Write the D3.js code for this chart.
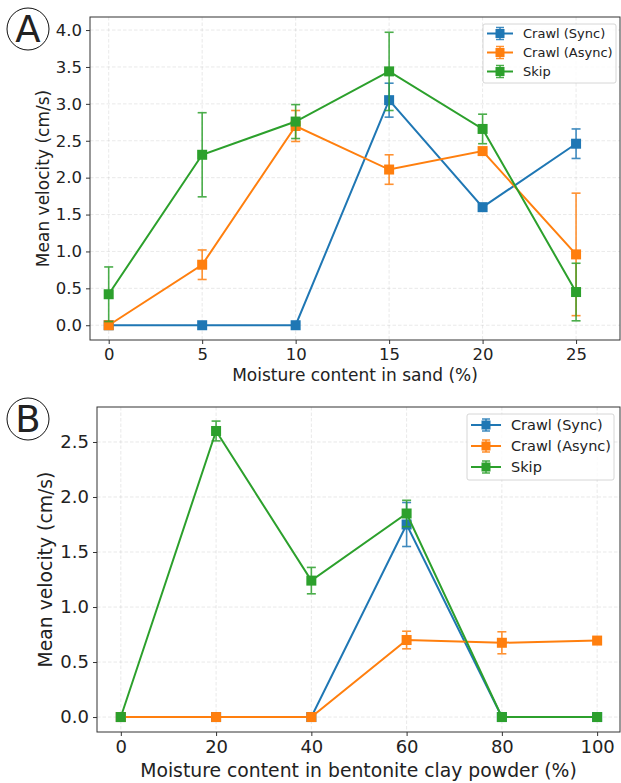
<!DOCTYPE html>
<html>
<head>
<meta charset="utf-8">
<script src="https://d3js.org/d3.v7.min.js"></script>
<style>
  body { margin: 0; background: white; }
  text { font-family: "DejaVu Sans", sans-serif; fill: #222; }
</style>
</head>
<body>
<svg id="chart" width="621" height="783"></svg>
<script>
// ---- data: panel A (sand) ----
var sandX = [0, 5, 10, 15, 20, 25];
var sandSync = [0, 0, 0, 3.05, 1.60, 2.46];
var sandSyncErr = [0, 0, 0, 0.23, 0.02, 0.20];
var sandAsync = [0, 0.82, 2.70, 2.11, 2.36, 0.96];
var sandAsyncErr = [0, 0.20, 0.21, 0.20, 0.02, 0.83];
var sandSkip = [0.42, 2.31, 2.76, 3.44, 2.66, 0.45];
var sandSkipErr = [0.37, 0.57, 0.23, 0.53, 0.20, 0.39];
var sandYTicks = [0, 0.5, 1, 1.5, 2, 2.5, 3, 3.5, 4];

// ---- data: panel B (bentonite clay) ----
var clayX = [0, 20, 40, 60, 80, 100];
var claySync = [0, 0, 0, 1.75, 0, 0];
var claySyncErr = [0, 0, 0, 0.20, 0, 0];
var clayAsync = [0, 0, 0, 0.70, 0.675, 0.695];
var clayAsyncErr = [0, 0, 0, 0.08, 0.10, 0.02];
var claySkip = [0, 2.60, 1.24, 1.85, 0, 0];
var claySkipErr = [0, 0.09, 0.12, 0.12, 0, 0];
var clayYTicks = [0, 0.5, 1, 1.5, 2, 2.5];

var seriesNames = ["Crawl (Sync)", "Crawl (Async)", "Skip"];
var colors = ["#1f77b4", "#ff7f0e", "#2ca02c"];

var svg = d3.select("#chart");

function panel(opt) {
    var g = svg.append("g");
    var x = d3.scaleLinear().domain(opt.xDomain).range([opt.left, opt.right]);
    var y = d3.scaleLinear().domain(opt.yDomain).range([opt.bottom, opt.top]);

    // grid
    g.append("g").selectAll("line").data(opt.xTicks).join("line")
        .attr("x1", d => x(d)).attr("x2", d => x(d))
        .attr("y1", opt.top).attr("y2", opt.bottom)
        .attr("stroke", "#b0b0b0").attr("stroke-opacity", 0.35)
        .attr("stroke-dasharray", "3.5,2").attr("stroke-width", 0.8);
    g.append("g").selectAll("line").data(opt.yTicks).join("line")
        .attr("y1", d => y(d)).attr("y2", d => y(d))
        .attr("x1", opt.left).attr("x2", opt.right)
        .attr("stroke", "#b0b0b0").attr("stroke-opacity", 0.35)
        .attr("stroke-dasharray", "3.5,2").attr("stroke-width", 0.8);

    // axes
    var xAxis = g.append("g").attr("transform", "translate(0," + opt.bottom + ")")
        .call(d3.axisBottom(x).tickValues(opt.xTicks).tickFormat(d3.format("d")).tickSize(4).tickPadding(4));
    var yAxis = g.append("g").attr("transform", "translate(" + opt.left + ",0)")
        .call(d3.axisLeft(y).tickValues(opt.yTicks).tickFormat(d3.format(".1f")).tickSize(4).tickPadding(4));
    [xAxis, yAxis].forEach(function (a) {
        a.select(".domain").remove();
        a.selectAll("line").attr("stroke", "#333");
        a.selectAll("text").attr("font-size", opt.tickSize).attr("fill", "#222")
            .attr("font-family", "DejaVu Sans, sans-serif");
    });

    // frame
    g.append("rect").attr("x", opt.left).attr("y", opt.top)
        .attr("width", opt.right - opt.left).attr("height", opt.bottom - opt.top)
        .attr("fill", "none").attr("stroke", "#333").attr("stroke-width", 1);

    // axis labels
    g.append("text").attr("x", (opt.left + opt.right) / 2).attr("y", opt.xLabelY)
        .attr("text-anchor", "middle").attr("font-size", opt.labelSize).text(opt.xLabel);
    g.append("text").attr("transform", "translate(" + opt.yLabelX + "," + ((opt.top + opt.bottom) / 2) + ") rotate(-90)")
        .attr("text-anchor", "middle").attr("dy", "0.35em").attr("font-size", opt.labelSize).text("Mean velocity (cm/s)");

    // series
    opt.series.forEach(function (s, i) {
        var pts = opt.xs.map((xv, j) => ({x: xv, y: s.values[j], e: s.errs[j]}));
        var sg = g.append("g");
        var line = d3.line().x(d => x(d.x)).y(d => y(d.y));
        sg.append("path").datum(pts).attr("d", line)
            .attr("fill", "none").attr("stroke", colors[i]).attr("stroke-width", 2);
        var eb = sg.append("g").attr("stroke", colors[i]).attr("stroke-width", 1.6).attr("opacity", 0.85);
        pts.filter(d => d.e > 0).forEach(function (d) {
            eb.append("line").attr("x1", x(d.x)).attr("x2", x(d.x))
                .attr("y1", y(d.y - d.e)).attr("y2", y(d.y + d.e));
            [d.y - d.e, d.y + d.e].forEach(function (v) {
                eb.append("line").attr("x1", x(d.x) - 4.5).attr("x2", x(d.x) + 4.5)
                    .attr("y1", y(v)).attr("y2", y(v));
            });
        });
        sg.selectAll("rect").data(pts).join("rect")
            .attr("x", d => x(d.x) - 5).attr("y", d => y(d.y) - 5)
            .attr("width", 10).attr("height", 10).attr("fill", colors[i]);
    });

    // legend
    var L = opt.legend;
    var lg = g.append("g");
    lg.append("rect").attr("x", L.x).attr("y", L.y).attr("width", L.w).attr("height", L.h)
        .attr("rx", 2).attr("fill", "white").attr("fill-opacity", 0.8)
        .attr("stroke", "#ccc").attr("stroke-width", 0.8);
    seriesNames.forEach(function (name, i) {
        var cy = L.row0 + i * L.step;
        var x0 = L.x + 4, x1 = x0 + L.sw, xm = (x0 + x1) / 2;
        lg.append("line").attr("x1", x0).attr("x2", x1).attr("y1", cy).attr("y2", cy)
            .attr("stroke", colors[i]).attr("stroke-width", 2);
        lg.append("line").attr("x1", xm).attr("x2", xm).attr("y1", cy - 6).attr("y2", cy + 6)
            .attr("stroke", colors[i]).attr("stroke-width", 1.5).attr("opacity", 0.85);
        [cy - 6, cy + 6].forEach(function (v) {
            lg.append("line").attr("x1", xm - 4).attr("x2", xm + 4).attr("y1", v).attr("y2", v)
                .attr("stroke", colors[i]).attr("stroke-width", 1.5).attr("opacity", 0.85);
        });
        lg.append("rect").attr("x", xm - 4.5).attr("y", cy - 4.5).attr("width", 9).attr("height", 9)
            .attr("fill", colors[i]);
        lg.append("text").attr("x", x1 + 10).attr("y", cy).attr("dy", "0.35em")
            .attr("font-size", L.font).text(name);
    });

    // circled letter
    svg.append("circle").attr("cx", opt.badge[0]).attr("cy", opt.badge[1]).attr("r", 21)
        .attr("fill", "white").attr("stroke", "#111").attr("stroke-width", 1);
    svg.append("text").attr("x", opt.badge[0]).attr("y", opt.badge[1]).attr("dy", "0.36em")
        .attr("text-anchor", "middle").attr("font-size", 37).attr("fill", "#000").text(opt.letter);
}

panel({
    left: 90, right: 620, top: 17, bottom: 340,
    xDomain: [-1.0, 27.35], yDomain: [-0.2, 4.177],
    xs: sandX, xTicks: sandX, yTicks: sandYTicks,
    series: [
        {values: sandSync, errs: sandSyncErr},
        {values: sandAsync, errs: sandAsyncErr},
        {values: sandSkip, errs: sandSkipErr}
    ],
    tickSize: 16.5, labelSize: 17,
    xLabel: "Moisture content in sand (%)", xLabelY: 381, yLabelX: 43,
    legend: {x: 483, y: 24, w: 133, h: 59, row0: 33.5, step: 19, sw: 26, font: 13},
    badge: [28, 29], letter: "A"
});

panel({
    left: 97, right: 620, top: 407, bottom: 732,
    xDomain: [-5, 104.8], yDomain: [-0.136, 2.818],
    xs: clayX, xTicks: clayX, yTicks: clayYTicks,
    series: [
        {values: claySync, errs: claySyncErr},
        {values: clayAsync, errs: clayAsyncErr},
        {values: claySkip, errs: claySkipErr}
    ],
    tickSize: 18, labelSize: 18.8,
    xLabel: "Moisture content in bentonite clay powder (%)", xLabelY: 777, yLabelX: 45,
    legend: {x: 467, y: 414, w: 147, h: 66, row0: 425, step: 21, sw: 30, font: 14.5},
    badge: [28, 419], letter: "B"
});
</script>
</body>
</html>
